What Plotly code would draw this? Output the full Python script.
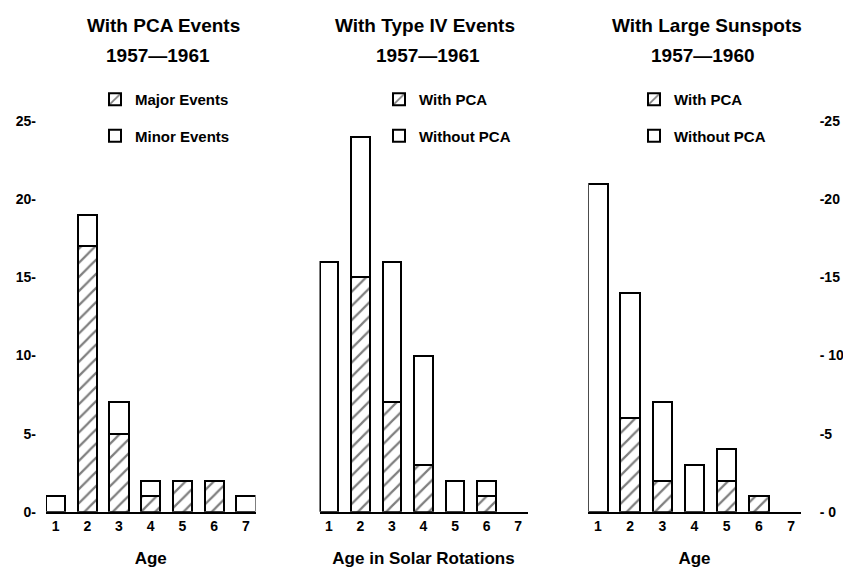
import plotly.graph_objects as go

ages = [1, 2, 3, 4, 5, 6, 7]
age_labels = ["1", "2", "3", "4", "5", "6", "7"]

# Panel 1: With PCA events 1957-1961
p1_major = [0, 17, 5, 1, 2, 2, 0]
p1_minor = [1, 2, 2, 1, 0, 0, 1]
# Panel 2: With Type IV events 1957-1961
p2_with = [0, 15, 7, 3, 0, 1, 0]
p2_without = [16, 9, 9, 7, 2, 1, 0]
# Panel 3: With large sunspots 1957-1960
p3_with = [0, 6, 2, 0, 2, 1, 0]
p3_without = [21, 8, 5, 3, 2, 0, 0]

y_ticks = [0, 5, 10, 15, 20, 25]
y_left_text = ["0-", "5-", "10-", "15-", "20-", "25-"]
y_right_text = ["- 0", "-5", "- 10", "-15", "-20", "-25"]

FONT = "Liberation Sans"
W, H = 851, 570

fig = go.Figure()

def nz(v):
    return [None if a == 0 else a for a in v]

def hatched(x, y, name, xa, ya, leg):
    return go.Bar(x=x, y=nz(y), name=name, xaxis=xa, yaxis=ya, legend=leg,
                  legendgroup=leg + name, width=0.6,
                  marker=dict(color="white", line=dict(color="black", width=2),
                              pattern=dict(shape="/", fgcolor="black", bgcolor="white",
                                           size=10, solidity=0.22)))

def plain(x, y, name, xa, ya, leg):
    return go.Bar(x=x, y=nz(y), name=name, xaxis=xa, yaxis=ya, legend=leg,
                  legendgroup=leg + name, width=0.6,
                  marker=dict(color="white", line=dict(color="black", width=2)))

fig.add_trace(hatched(ages, p1_major, "Major Events", "x", "y", "legend"))
fig.add_trace(plain(ages, p1_minor, "Minor Events", "x", "y", "legend"))
fig.add_trace(hatched(ages, p2_with, "With PCA", "x2", "y2", "legend2"))
fig.add_trace(plain(ages, p2_without, "Without PCA", "x2", "y2", "legend2"))
fig.add_trace(hatched(ages, p3_with, "With PCA", "x3", "y3", "legend3"))
fig.add_trace(plain(ages, p3_without, "Without PCA", "x3", "y3", "legend3"))

def px_x(p):
    return p / W

def px_y(p):
    return 1 - p / H

ydom = [px_y(511), px_y(511 - 26.5 * 15.85)]
xdoms = [[px_x(38), px_x(247.5)], [px_x(311.5), px_x(519.5)], [px_x(580.3), px_x(792.7)]]

tickfont = dict(family=FONT, size=14, color="black", weight="bold")
xa_common = dict(range=[0.7, 7.3], tickvals=ages, ticktext=age_labels, showline=True,
                 linecolor="black", linewidth=2, ticks="", showgrid=False, zeroline=False,
                 tickfont=tickfont, fixedrange=True)
ya_common = dict(range=[0, 26.5], tickvals=y_ticks, showgrid=False, zeroline=False,
                 showline=False, tickfont=tickfont, fixedrange=True)

titlefont = dict(family=FONT, size=17, color="black", weight="bold")
fig.update_layout(
    width=W, height=H, margin=dict(l=0, r=0, t=0, b=0),
    paper_bgcolor="white", plot_bgcolor="white", barmode="stack", bargap=0.4,
    font=dict(family=FONT, color="black"),
    xaxis=dict(domain=xdoms[0], anchor="y", **xa_common,
               title=dict(text="Age", font=titlefont, standoff=19)),
    xaxis2=dict(domain=xdoms[1], anchor="y2", **xa_common,
                title=dict(text="Age in Solar Rotations", font=titlefont, standoff=19)),
    xaxis3=dict(domain=xdoms[2], anchor="y3", **xa_common,
                title=dict(text="Age", font=titlefont, standoff=19)),
    yaxis=dict(domain=ydom, anchor="x", ticktext=y_left_text, ticklabelstandoff=9, **ya_common),
    yaxis2=dict(domain=ydom, anchor="x2", showticklabels=False, **ya_common),
    yaxis3=dict(domain=ydom, anchor="x3", side="right", ticktext=y_right_text,
                ticklabelstandoff=18, **ya_common),
    showlegend=True,
)

legfont = dict(family=FONT, size=15, color="black", weight="bold")
for key, xpx in [("legend", 87), ("legend2", 371), ("legend3", 626)]:
    fig.update_layout({key: dict(x=px_x(xpx), y=px_y(76), xanchor="left", yanchor="top",
                                 font=legfont, bgcolor="rgba(0,0,0,0)",
                                 traceorder="grouped", tracegroupgap=14,
                                 itemwidth=30)})

big = dict(family=FONT, size=19, color="black", weight="bold")
titles = [
    (155, 18, "With PCA Events"), (150, 48, "1957\u20141961"),
    (417, 18, "With Type IV Events"), (420, 48, "1957\u20141961"),
    (699, 18, "With Large Sunspots"), (695, 48, "1957\u20141960"),
]
for xp, yp, t in titles:
    fig.add_annotation(x=px_x(xp), y=px_y(yp), xref="paper", yref="paper", text=t,
                       showarrow=False, font=big, xanchor="center", yanchor="middle")

fig.write_html("out.html")
